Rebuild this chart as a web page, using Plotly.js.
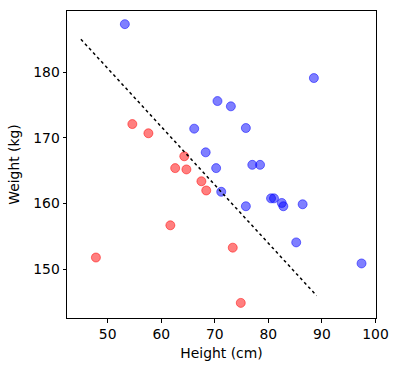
<!DOCTYPE html>
<html>
<head>
<script src="https://cdn.plot.ly/plotly-3.0.1.min.js"></script>
<style>body{margin:0;padding:0;background:#fff}#chart{width:398px;height:371px}</style>
</head>
<body>
<div id="chart"></div>
<script>
const blueHeight = [53.2, 88.5, 70.5, 73.0, 66.15, 75.8, 68.3, 77.0, 78.45, 70.25, 71.2, 80.5, 81.05, 82.5, 82.8, 86.4, 75.8, 85.2, 97.4];
const blueWeight = [187.3, 179.1, 175.6, 174.8, 171.4, 171.5, 167.8, 165.9, 165.9, 165.4, 161.8, 160.8, 160.8, 160.1, 159.6, 159.9, 159.6, 154.1, 150.9];
const redHeight = [54.6, 57.6, 64.3, 62.6, 64.7, 67.5, 68.4, 61.7, 73.35, 47.8, 74.85];
const redWeight = [172.1, 170.7, 167.2, 165.4, 165.2, 163.4, 162.0, 156.7, 153.3, 151.8, 144.9];
const lineHeight = [45, 89];
const lineWeight = [185, 146];

const font = {family: 'DejaVu Sans', size: 13.9, color: '#000'};
const traces = [
  {x: blueHeight, y: blueWeight, type: 'scatter', mode: 'markers',
   marker: {size: 9, color: 'rgba(0,0,255,0.5)', line: {width: 1, color: 'rgba(0,0,255,0.5)'}}},
  {x: redHeight, y: redWeight, type: 'scatter', mode: 'markers',
   marker: {size: 9, color: 'rgba(255,0,0,0.5)', line: {width: 1, color: 'rgba(255,0,0,0.5)'}}},
  {x: lineHeight, y: lineWeight, type: 'scatter', mode: 'lines',
   line: {color: '#000', width: 1.5, dash: 'dot'}}
];
const axisCommon = {
  showgrid: false, zeroline: false, showline: true, mirror: true,
  linecolor: '#000', linewidth: 1, ticks: 'outside', ticklen: 3.5, tickwidth: 1,
  tickcolor: '#000', tickfont: font
};
const layout = {
  width: 398, height: 371,
  margin: {l: 67, r: 22, t: 10.5, b: 53},
  paper_bgcolor: '#fff', plot_bgcolor: '#fff',
  showlegend: false,
  font: font,
  xaxis: Object.assign({}, axisCommon, {
    range: [42.4, 100.1], tickvals: [50, 60, 70, 80, 90, 100],
    title: {text: 'Height (cm)', font: font, standoff: 7}
  }),
  yaxis: Object.assign({}, axisCommon, {
    range: [142.6, 189.3], tickvals: [150, 160, 170, 180],
    title: {text: 'Weight (kg)', font: font, standoff: 10}
  })
};
Plotly.newPlot('chart', traces, layout, {displayModeBar: false, staticPlot: true});
</script>
</body>
</html>
